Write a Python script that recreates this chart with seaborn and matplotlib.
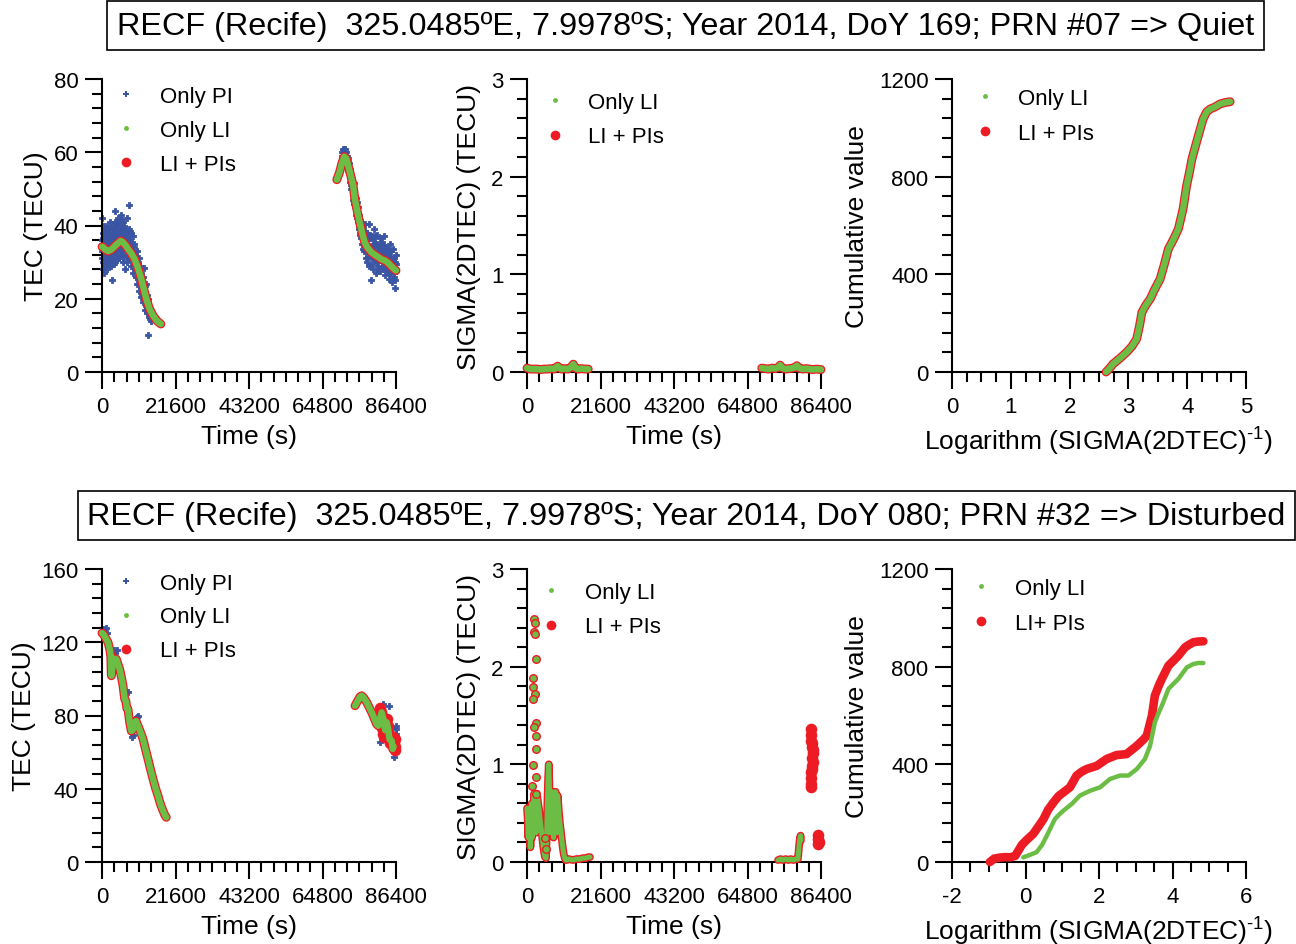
import matplotlib
matplotlib.use('Agg')
import matplotlib.pyplot as plt
from matplotlib.lines import Line2D
from matplotlib.ticker import MultipleLocator
import seaborn as sns

sns.set_style('ticks')
plt.rcParams['font.family'] = ['Liberation Sans', 'DejaVu Sans']
plt.rcParams['mathtext.fontset'] = 'custom'
plt.rcParams['mathtext.rm'] = 'Liberation Sans'
plt.rcParams['axes.unicode_minus'] = False
for key in ['text.color', 'axes.labelcolor', 'xtick.color', 'ytick.color', 'axes.edgecolor']:
    plt.rcParams[key] = 'black'

BLUE = '#3a55a4'
GREEN = '#6cbd45'
RED = '#ed1c24'

title_quiet = 'RECF (Recife)  325.0485ºE, 7.9978ºS; Year 2014, DoY 169; PRN #07 => Quiet'
title_dist = 'RECF (Recife)  325.0485ºE, 7.9978ºS; Year 2014, DoY 080; PRN #32 => Disturbed'

# ---------------- quiet day, TEC ----------------
q_pi_t = [0, 0, 100, 150, 200, 300, 350, 400, 500, 550, 600, 700, 800, 850, 900, 1000, 1100, 1200,
          1300, 1400, 1500, 1600, 1700, 1800, 1900, 2000, 2100, 2200, 2300, 2400, 2500, 2600, 2800,
          2900, 3000, 3100, 3200, 3300, 3400, 3500, 3600, 3700, 3800, 3900, 4000, 4200, 4300, 4400,
          4500, 4600, 4800, 4900, 5000, 5100, 5200, 5300, 5500, 5600, 5700, 5800, 6000, 6100, 6200,
          6300, 6500, 6600, 6700, 6800, 7000, 7100, 7200, 7300, 7500, 7600, 7800, 7900, 8000, 8100,
          8300, 8400, 8500, 8700, 8800, 9000, 9100, 9200, 9400, 9500, 9700, 9800, 10000, 10100,
          10300, 10400, 10600, 10800, 10900, 11100, 11200, 11400, 11600, 11700, 11900, 12100, 12200,
          12400, 12500, 12700, 12900, 13000, 13200, 13400, 13500, 13700, 13900, 14100, 14300, 14500,
          70400, 70600, 70800, 71000, 71200, 71400, 71600, 71800, 72000, 72200, 72400, 72600, 72800,
          73000, 73200, 73400, 73600, 73800, 74000, 74200, 74400, 74600, 74800, 75000, 75200, 75400,
          75600, 75800, 76000, 76200, 76400, 76600, 76800, 77000, 77100, 77300, 77500, 77600, 77800,
          78000, 78100, 78300, 78500, 78600, 78800, 79000, 79100, 79300, 79500, 79700, 79900, 80100,
          80300, 80500, 80600, 80800, 81000, 81200, 81400, 81600, 81800, 82000, 82200, 82400, 82600,
          82800, 83000, 83200, 83400, 83600, 83800, 84000, 84200, 84400, 84600, 84800, 85000, 85200,
          85400, 85600, 85800, 86000, 86100, 86300, 86400]
q_pi_tec = [31, 36, 42, 28, 33, 38, 30, 35, 27, 40, 32, 36, 29, 34, 38, 31, 35, 39,
            30, 33, 37, 28, 35, 32, 38, 30, 34, 36, 41, 31, 35, 29, 37,
            33, 25, 39, 34, 31, 36, 40, 33, 38, 44, 30, 35, 41, 37, 32,
            39, 34, 42, 36, 31, 38, 40, 34, 43, 37, 32, 39, 35, 41, 30,
            37, 34, 40, 28, 36, 39, 33, 42, 30, 37, 34, 45.5, 39, 31, 36,
            33, 38, 29, 35, 31, 37, 27, 33, 30, 35, 28, 32, 26, 30,
            33, 24, 28, 31, 22, 26, 29, 23, 27, 21, 25, 19, 23,
            28.5, 17, 21, 24, 18, 16, 20, 10, 15, 18, 14.5, 16.5, 14,
            58, 60, 61, 59.5, 60.5, 61, 59, 60, 57, 58.5, 55, 57, 53,
            55.5, 51, 53, 50, 48.5, 51.5, 46, 48, 44, 46.5, 42, 45, 40,
            43, 38, 41, 36.5, 40, 35, 38.5, 33, 37, 40.5, 31, 35, 38,
            30, 33.5, 36.5, 40.5, 29, 34, 25, 31.5, 37, 33, 28, 39, 30.5,
            35, 27, 32.5, 37.5, 29, 34, 31, 36.5, 27.5, 33, 30, 35.5, 28,
            32, 37, 26.5, 30.5, 34, 28.5, 32.5, 25.5, 30, 35, 27, 31, 24.5,
            29, 33.5, 26, 23, 30, 27.5, 32]
# second batch of Only-PI points read from the denser parts of the cloud
q_pi_t_b = [50, 250, 450, 650, 750, 950, 1050, 1150, 1250, 1350, 1450, 1550, 1650, 1750, 1850,
            1950, 2050, 2150, 2250, 2350, 2450, 2550, 2700, 2850, 2950, 3050, 3150, 3250, 3350,
            3450, 3550, 3650, 3750, 3850, 3950, 4100, 4250, 4350, 4450, 4550, 4700, 4850, 4950,
            5050, 5150, 5250, 5400, 5650, 5750, 5900, 6050, 6150, 6400, 6550, 6750, 6900, 7050,
            7250, 7400, 7700, 7950, 8200, 8600, 8900, 9300, 9600, 9900, 10200, 10500, 10700,
            11000, 11300, 11500, 11800, 12000, 12300, 12600, 12800, 13100, 13300, 13600, 13800,
            14000, 14200,
            70500, 70900, 71100, 71500, 71700, 71900, 72100, 72300, 72500, 72700, 72900, 73100,
            73300, 73500, 73700, 73900, 74100, 74300, 74500, 74700, 74900, 75100, 75300, 75500,
            75700, 75900, 76100, 76300, 76500, 76700, 76900, 77200, 77400, 77700, 77900, 78200,
            78400, 78700, 78900, 79200, 79400, 79600, 79800, 80000, 80200, 80400, 80700, 80900,
            81100, 81300, 81500, 81700, 81900, 82100, 82300, 82500, 82700, 82900, 83100, 83300,
            83500, 83700, 83900, 84100, 84300, 84500, 84700, 84900, 85100, 85300, 85500, 85700,
            85900, 86200, 86350]
q_pi_tec_b = [33, 36.5, 32, 38, 30.5, 35.5, 29.5, 37.5, 33.5, 40, 31.5, 35, 38.5, 30, 34.5,
              36, 32.5, 39, 29, 35.5, 37.5, 32, 34, 39.5, 30.5, 36, 32.5, 38, 34.5,
              29.5, 37, 35.5, 41, 33, 38.5, 36.5, 34, 39.5, 31, 36.5, 38, 33.5, 40.5,
              35.5, 33, 37.5, 39, 35, 41.5, 36.5, 33, 38.5, 36, 31.5, 38, 34.5, 36.5,
              35, 32, 36, 33.5, 38.5, 34, 32.5, 34, 29.5, 31, 27.5, 30, 25.5,
              28, 24.5, 20.5, 22.5, 26, 20, 23.5, 18.5, 21, 17.5, 19, 16,
              17.5, 15.5,
              59, 58, 61, 60, 58.5, 59, 56, 57.5, 54.5, 55.5, 52, 53.5,
              50, 51.5, 49, 47, 49.5, 45, 47.5, 43, 45, 41, 43.5, 39,
              41.5, 37.5, 39.5, 35, 38, 33.5, 36, 34.5, 38.5, 33, 36, 31.5,
              34.5, 37.5, 32, 34.5, 29.5, 36, 31.5, 34, 37, 32, 30, 35,
              32.5, 28, 33.5, 30.5, 35, 31.5, 28.5, 33, 30.5, 34.5, 29, 32,
              27.5, 31, 33.5, 29.5, 27, 31.5, 29, 33, 27.5, 30.5, 25.5, 29,
              31, 25, 29.5]

q_li_t1 = [0, 300, 1000, 1800, 2700, 3600, 4500, 5500, 6200, 7000, 7640, 8600, 9600, 10600,
           11560, 12300, 13030, 14000, 15000, 16100, 17300]
q_li_tec1 = [34.2, 34.1, 33.4, 33.0, 33.4, 34.2, 35.0, 35.8, 35.4, 34.5, 33.6, 32.4, 30.8, 28.3,
             25.4, 22.6, 19.9, 17.2, 15.4, 14.0, 13.1]
q_li_t2 = [69000, 69800, 70500, 71200, 71800, 72400, 73000, 73800, 74300, 75000, 75800, 76500,
           77200, 78000, 79150, 80500, 82100, 83200, 84100, 85200, 86400]
q_li_tec2 = [52.5, 54.5, 57.0, 58.8, 58.3, 56.2, 54.0, 51.0, 47.2, 44.0, 40.5, 37.8,
             35.4, 34.0, 32.7, 31.8, 30.8, 30.4, 29.8, 28.7, 27.7]

# ---------------- quiet day, SIGMA ----------------
q_sig_t1 = [0, 1000, 2000, 3000, 4000, 5000, 6000, 7000, 8000, 9000, 9600, 10200, 11000, 12000,
            13000, 13600, 14200, 15000, 16000, 17000, 18000]
q_sig_s1 = [0.04, 0.03, 0.03, 0.03, 0.025, 0.03, 0.03, 0.035, 0.03, 0.06, 0.04, 0.03, 0.035, 0.03,
            0.05, 0.08, 0.04, 0.03, 0.035, 0.03, 0.03]
q_sig_t2 = [69000, 70000, 71000, 72000, 73000, 74000, 74400, 75000, 76000, 77000, 78000, 79000,
            79300, 80000, 81000, 82000, 83000, 84000, 85000, 86400]
q_sig_s2 = [0.04, 0.035, 0.03, 0.04, 0.035, 0.05, 0.07, 0.04, 0.03, 0.035, 0.04, 0.05,
            0.065, 0.04, 0.03, 0.035, 0.03, 0.025, 0.03, 0.025]

# ---------------- quiet day, cumulative ----------------
q_cum_log = [2.62, 2.68, 2.74, 2.85, 2.97, 3.06, 3.14, 3.19, 3.23, 3.30, 3.37, 3.45, 3.54, 3.61,
             3.68, 3.77, 3.85, 3.93, 3.99, 4.04, 4.08, 4.14, 4.19, 4.27, 4.33, 4.39, 4.47, 4.56,
             4.65, 4.73]
q_cum_val = [0, 15, 33, 55, 81, 105, 135, 190, 245, 275, 299, 340, 381, 440,
             504, 545, 586, 668, 763, 820, 872, 925, 968, 1036, 1065, 1077, 1085, 1098,
             1104, 1107]

# ---------------- disturbed day, TEC ----------------
d_pi_t = [200, 700, 1200, 1500, 3500, 3900, 4300, 7300, 7700, 8700, 9000, 10200, 10500,
          81700, 82480, 83200, 84000, 84440, 84900, 85820, 86300, 86400, 86400]
d_pi_tec = [127, 126.5, 128, 125, 116, 114, 115.5, 81.7, 92.6, 68.1, 69.5, 79, 79.5,
            65.4, 86.3, 79, 77, 85.3, 73, 57.2, 72.6, 70, 74]

d_li_t1 = [0, 390, 1000, 1760, 2300, 2600, 2700, 2750, 2900, 3200, 3600, 4210, 4700, 5190, 5700,
           6170, 6660, 7000, 7300, 7640, 8130, 8620, 9000, 9600, 10000, 10580, 11300, 12050,
           12800, 13520, 14200, 15000, 15700, 16460, 17200, 17930, 18500, 18900]
d_li_tec1 = [125, 124.5, 122.5, 120, 116, 112, 104, 101.7, 104, 109, 111, 110.8, 108, 105.4, 101,
             96.3, 89, 88, 84, 83.5, 76.3, 71.5, 72, 76.3, 77, 74.4, 71, 67.2,
             61.5, 56.2, 51, 45.3, 40.5, 36.2, 31.5, 28, 25.5, 24.4]
d_li_t2 = [74360, 75000, 75800, 76320, 77000, 77790, 78500, 79260, 80000, 80730, 81200, 81700,
           82190, 82700, 83200, 83670, 84100, 84500, 85140, 85430, 85700]
d_li_tec2 = [85.3, 87.5, 90.2, 90.8, 89.5, 87.2, 84.5, 81.7, 78.5, 75.2, 74.4, 78,
             81.7, 78, 72, 76.3, 72.6, 67, 66.2, 61.7, 63]
d_lipi_t = [81800, 82000, 82200, 82300, 82200, 82500, 82800, 83800, 84000, 84200, 84300, 84500,
            85500, 85700, 86000, 86200, 86100]
d_lipi_tec = [84, 82, 80, 77, 73, 70, 68, 78, 74, 70, 67, 65, 68, 65, 63, 61, 67]

# ---------------- disturbed day, SIGMA ----------------
d_sig_t1 = [0, 200, 400, 500, 700, 900, 1000, 1200, 1400, 1500, 1700, 1900, 2100, 2300, 2500,
            2700, 2900, 3200, 3500, 3800, 4100, 4400, 4700, 5000, 5300, 5600, 5800, 6000, 6200,
            6400, 6600, 6700, 6800, 7000, 7200, 7400, 7600, 7800, 8000, 8200, 8400, 8600, 8800,
            9000, 9300, 9600, 9900, 10200, 10500, 10800, 11100, 11400, 11700, 12000, 12300,
            13500, 14500, 15500, 16500, 17300, 18000, 18500]
d_sig_s1 = [0.55, 0.45, 0.25, 0.55, 0.30, 0.50, 0.15, 0.45, 0.60, 0.25, 0.55, 0.35, 0.70, 0.40, 0.62,
            0.30, 0.70, 0.62, 0.55, 0.45, 0.36, 0.28, 0.18, 0.10, 0.05, 0.04, 0.30, 0.60, 0.85,
            1.00, 0.75, 0.45, 0.62, 0.30, 0.55, 0.72, 0.40, 0.25, 0.60, 0.35, 0.72, 0.50, 0.30,
            0.68, 0.55, 0.42, 0.33, 0.24, 0.15, 0.08, 0.04, 0.02, 0.02, 0.03, 0.03,
            0.02, 0.03, 0.03, 0.04, 0.04, 0.05, 0.05]
d_sig_t2 = [73800, 74500, 75200, 76000, 76800, 77500, 78300, 79000, 79600, 79800, 80000, 80200,
            80400, 80500]
d_sig_s2 = [0.02, 0.03, 0.02, 0.03, 0.02, 0.03, 0.02, 0.03, 0.03, 0.10, 0.18, 0.24, 0.27, 0.22]
d_sig_iso_t = [2000, 2300, 2100, 2400, 2500, 1900, 1800, 2300, 1900, 2700, 2200, 2500, 2500, 1800,
               2700, 1500, 2600, 5400, 5500]
d_sig_iso_s = [2.49, 2.45, 2.35, 2.33, 2.08, 1.88, 1.79, 1.72, 1.67, 1.42, 1.38, 1.29, 1.16, 0.99,
               0.87, 0.78, 0.70, 0.25, 0.13]
d_sig_pi_t = [83500, 83600, 83400, 83700, 83900, 84000, 83800, 84100, 83700, 83600, 83500, 83400,
              83600, 83800, 84000, 85400, 85600, 85700, 85500]
d_sig_pi_s = [1.36, 1.30, 1.24, 1.18, 1.22, 1.12, 1.06, 1.15, 0.98, 0.92, 0.86, 0.80,
              0.77, 0.95, 1.02, 0.28, 0.24, 0.20, 0.18]

# ---------------- disturbed day, cumulative ----------------
d_cum_red_log = [-0.97, -0.85, -0.70, -0.55, -0.42, -0.28, -0.20, -0.10, 0.03, 0.21, 0.35, 0.49,
                 0.62, 0.76, 0.90, 1.03, 1.21, 1.39, 1.53, 1.67, 1.94, 2.21, 2.48, 2.75, 3.03,
                 3.20, 3.30, 3.44, 3.52, 3.62, 3.71, 3.89, 4.03, 4.16, 4.34, 4.45, 4.57, 4.70, 4.84]
d_cum_red_val = [0, 14, 18, 20, 19, 25, 45, 70, 90, 115, 145, 176,
                 215, 244, 270, 285, 306, 354, 370, 381, 394, 422, 438, 442, 476,
                 500, 517, 599, 681, 720, 750, 804, 825, 845, 879, 890, 900, 903, 904]
d_cum_grn_log = [-0.06, 0.10, 0.30, 0.45, 0.58, 0.70, 0.80, 0.92, 1.03, 1.26, 1.48, 1.76, 2.03,
                 2.30, 2.57, 2.80, 3.03, 3.25, 3.39, 3.52, 3.62, 3.71, 3.89, 4.16, 4.39, 4.57,
                 4.70, 4.84]
d_cum_grn_val = [19, 28, 40, 70, 108, 145, 176, 195, 210, 238, 272, 292, 306,
                 340, 354, 354, 381, 422, 476, 572, 610, 640, 709, 750, 797, 811,
                 815, 815]


W, H = 1296, 945
fig = plt.figure(figsize=(W / 100, H / 100), dpi=100)


def make_ax(x0, y_top):
    # pixel box -> figure fraction, each plot box 294 x 293 px
    return fig.add_axes([x0 / W, 1 - (y_top + 293) / H, 294 / W, 293 / H])


def style(ax, xlim, xmaj, xmin, ylim, ymaj, ymin, xlabel, ylabel, ypad=7):
    ax.set_xlim(*xlim)
    ax.set_ylim(*ylim)
    ax.xaxis.set_major_locator(MultipleLocator(xmaj))
    ax.xaxis.set_minor_locator(MultipleLocator(xmin))
    ax.yaxis.set_major_locator(MultipleLocator(ymaj))
    ax.yaxis.set_minor_locator(MultipleLocator(ymin))
    sns.despine(ax=ax)
    for s in ['left', 'bottom']:
        ax.spines[s].set_linewidth(1.5)
    ax.tick_params(which='major', length=12, width=1.5, labelsize=16, pad=5)
    ax.tick_params(which='minor', length=7, width=1.5)
    ax.set_xlabel(xlabel, fontsize=19, labelpad=5)
    ax.set_ylabel(ylabel, fontsize=19, labelpad=ypad)
    ax.set_facecolor('none')


def band(ax, x, y, red_w=6.4, grn_w=4.6):
    sns.lineplot(x=x, y=y, ax=ax, color=RED, linewidth=red_w, sort=False, estimator=None,
                 solid_capstyle='round', solid_joinstyle='round', clip_on=False, zorder=3)
    sns.lineplot(x=x, y=y, ax=ax, color=GREEN, linewidth=grn_w, sort=False, estimator=None,
                 solid_capstyle='round', solid_joinstyle='round', clip_on=False, zorder=4)


def legend(ax, items, anchor, spacing=0.58):
    handles = [Line2D([], [], linestyle='none', marker=m, markersize=ms, color=c,
                      markeredgewidth=0) for m, ms, c, _ in items]
    ax.legend(handles, [lab for *_, lab in items], loc='upper left', bbox_to_anchor=anchor,
              frameon=False, fontsize=16, handlelength=1.0, handletextpad=1.0,
              labelspacing=spacing, borderaxespad=0, borderpad=0)


PI_ITEM = ('P', 4.5, BLUE, 'Only PI')
LI_ITEM = ('o', 3.5, GREEN, 'Only LI')
LP_ITEM = ('o', 7, RED, 'LI + PIs')
time_lab = 'Time (s)'
sig_lab = 'SIGMA(2DTEC) (TECU)'
cum_lab = 'Cumulative value'
log_lab = r'Logarithm (SIGMA(2DTEC)$^{\text{-1}}$)'

# ---- row 1 ----
ax = make_ax(102, 80)
sns.scatterplot(x=q_pi_t + q_pi_t_b, y=q_pi_tec + q_pi_tec_b, ax=ax, color=BLUE, marker='P',
                s=18, edgecolor=BLUE, linewidth=0.6, clip_on=False, zorder=2)
band(ax, q_li_t1, q_li_tec1)
band(ax, q_li_t2, q_li_tec2)
style(ax, (0, 86400), 21600, 3600, (0, 80), 20, 4, time_lab, 'TEC (TECU)', ypad=4)
legend(ax, [PI_ITEM, LI_ITEM, LP_ITEM], (0.045, 0.976))

ax = make_ax(527, 80)
band(ax, q_sig_t1, q_sig_s1)
band(ax, q_sig_t2, q_sig_s2)
style(ax, (0, 86400), 21600, 3600, (0, 3), 1, 0.2, time_lab, sig_lab)
legend(ax, [LI_ITEM, LP_ITEM], (0.058, 0.957), spacing=0.62)

ax = make_ax(952, 80)
band(ax, q_cum_log, q_cum_val)
style(ax, (0, 5), 1, 0.25, (0, 1200), 400, 80, log_lab, cum_lab)
legend(ax, [LI_ITEM, LP_ITEM], (0.075, 0.97), spacing=0.62)

# ---- row 2 ----
ax = make_ax(102, 570)
sns.scatterplot(x=d_pi_t, y=d_pi_tec, ax=ax, color=BLUE, marker='P', s=18, edgecolor=BLUE,
                linewidth=0.6, clip_on=False, zorder=2)
sns.scatterplot(x=d_lipi_t, y=d_lipi_tec, ax=ax, color=RED, s=70, linewidth=0,
                clip_on=False, zorder=3)
band(ax, d_li_t1, d_li_tec1)
band(ax, d_li_t2, d_li_tec2)
style(ax, (0, 86400), 21600, 3600, (0, 160), 40, 8, time_lab, 'TEC (TECU)', ypad=4)
legend(ax, [PI_ITEM, LI_ITEM, LP_ITEM], (0.045, 0.988))

ax = make_ax(527, 570)
band(ax, d_sig_t1, d_sig_s1, red_w=5.6, grn_w=3.6)
band(ax, d_sig_t2, d_sig_s2, red_w=5.6, grn_w=3.6)
sns.scatterplot(x=d_sig_iso_t, y=d_sig_iso_s, ax=ax, color=GREEN, s=30, edgecolor=RED,
                linewidth=1.0, clip_on=False, zorder=5)
sns.scatterplot(x=d_sig_pi_t, y=d_sig_pi_s, ax=ax, color=RED, s=70, linewidth=0,
                clip_on=False, zorder=5)
style(ax, (0, 86400), 21600, 3600, (0, 3), 1, 0.2, time_lab, sig_lab)
legend(ax, [LI_ITEM, LP_ITEM], (0.045, 0.957), spacing=0.62)

ax = make_ax(952, 570)
sns.lineplot(x=d_cum_red_log, y=d_cum_red_val, ax=ax, color=RED, linewidth=6.2, sort=False,
             estimator=None, solid_capstyle='round', clip_on=False, zorder=3)
sns.lineplot(x=d_cum_grn_log, y=d_cum_grn_val, ax=ax, color=GREEN, linewidth=3.2, sort=False,
             estimator=None, solid_capstyle='round', clip_on=False, zorder=4)
style(ax, (-2, 6), 2, 0.5, (0, 1200), 400, 80, log_lab, cum_lab)
legend(ax, [LI_ITEM, ('o', 7, RED, 'LI+ PIs')], (0.062, 0.97), spacing=0.62)

box = dict(boxstyle='square,pad=0.3', fc='white', ec='black', lw=1.2)
fig.text(685.5 / W, 1 - 26.5 / H, title_quiet, ha='center', va='center', fontsize=23.3, bbox=box)
fig.text(686.5 / W, 1 - 516.5 / H, title_dist, ha='center', va='center', fontsize=23.3, bbox=box)

fig.savefig('out.png', dpi=100, facecolor='white')
